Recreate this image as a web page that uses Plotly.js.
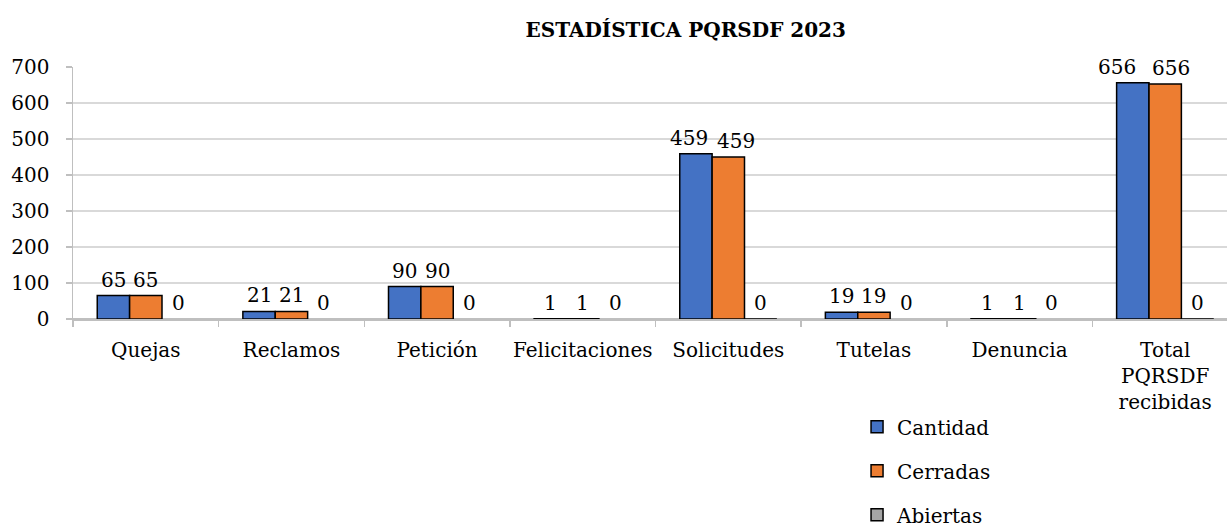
<!DOCTYPE html>
<html>
<head>
<meta charset="utf-8">
<script src="https://cdn.plot.ly/plotly-3.0.1.min.js"></script>
<style>
html, body { margin: 0; padding: 0; overflow: hidden; background: #fff; }
#chart { width: 1240px; height: 524px; }
</style>
</head>
<body>
<div id="chart"></div>
<script>
const categories = ["Quejas", "Reclamos", "Petición", "Felicitaciones", "Solicitudes", "Tutelas", "Denuncia", "Total<br>PQRSDF<br>recibidas"];
const cantidad = [65, 21, 90, 1, 459, 19, 1, 656];
const cerradas = [65, 21, 90, 1, 450, 19, 1, 653];
const abiertas = [0, 0, 0, 0, 0, 0, 0, 0];
const cantidadLabels = ["65", "21", "90", "1", "459", "19", "1", "656"];
const cerradasLabels = ["65", "21", "90", "1", "459", "19", "1", "656"];
const abiertasLabels = ["0", "0", "0", "0", "0", "0", "0", "0"];
const abiertasOutline = [0, 0, 0, 0, 1.5, 0, 0, 1.5];
const yTicks = [0, 100, 200, 300, 400, 500, 600, 700];

const FONT = "DejaVu Serif, Georgia, serif";
const W = 1240, H = 524;
const MARGIN = { l: 73, r: 2, t: 67, b: 205 };
const BARGAP = 0.333;

// label nudges (px) to keep crowded labels apart, like the original chart
const labelNudge = {
  "Cantidad|Solicitudes": -7, "Cerradas|Solicitudes": 8,
  "Cantidad|Total<br>PQRSDF<br>recibidas": -16, "Cerradas|Total<br>PQRSDF<br>recibidas": 6
};

function barTrace(name, values, color, lineWidths, order) {
  const idx = order || categories.map((c, i) => i);
  return {
    type: "bar",
    name: name,
    x: idx.map(i => categories[i]),
    y: idx.map(i => values[i]),
    hoverinfo: "skip",
    legendgroup: name,
    marker: {
      color: color,
      line: { color: "#000", width: Array.isArray(lineWidths) ? idx.map(i => lineWidths[i]) : lineWidths }
    }
  };
}

// outlined points first so the legend swatch keeps its border
const abiertasOrder = categories.map((c, i) => i).sort((a, b) => abiertasOutline[b] - abiertasOutline[a] || a - b);

const series = [
  { name: "Cantidad", values: cantidad, labels: cantidadLabels, color: "#4472C4", line: 1.5 },
  { name: "Cerradas", values: cerradas, labels: cerradasLabels, color: "#ED7D31", line: 1.5 },
  { name: "Abiertas", values: abiertas, labels: abiertasLabels, color: "#A5A5A5", line: abiertasOutline, order: abiertasOrder }
];

const data = series.map(s => barTrace(s.name, s.values, s.color, s.line, s.order));

const barPx = (W - MARGIN.l - MARGIN.r) / categories.length * (1 - BARGAP) / series.length;
const annotations = [];
series.forEach((s, k) => {
  categories.forEach((c, i) => {
    annotations.push({
      x: c, y: s.values[i], xref: "x", yref: "y",
      text: s.labels[i], showarrow: false,
      xanchor: "center", yanchor: "bottom",
      xshift: (k - (series.length - 1) / 2) * barPx + (labelNudge[s.name + "|" + c] || 0),
      yshift: 2,
      font: { family: FONT, size: 20, color: "#000" }
    });
  });
});

const layout = {
  width: W,
  height: H,
  margin: Object.assign({ autoexpand: false }, MARGIN),
  paper_bgcolor: "#fff",
  plot_bgcolor: "#fff",
  font: { family: FONT, size: 20, color: "#000" },
  title: {
    text: "<b>ESTADÍSTICA PQRSDF 2023</b>",
    font: { family: FONT, size: 20, color: "#000" },
    x: 0.553, xref: "container", xanchor: "center",
    y: 0.943, yref: "container", yanchor: "middle"
  },
  barmode: "group",
  bargap: BARGAP,
  bargroupgap: 0,
  showlegend: true,
  legend: {
    x: 0.673, xanchor: "left",
    y: -0.35, yanchor: "top",
    orientation: "v",
    traceorder: "grouped",
    tracegroupgap: 15,
    font: { family: FONT, size: 20, color: "#000" },
    bgcolor: "rgba(0,0,0,0)",
    itemclick: false
  },
  annotations: annotations,
  xaxis: {
    type: "category",
    categoryorder: "array",
    categoryarray: categories,
    showgrid: false,
    showline: true,
    linecolor: "#bfbfbf",
    linewidth: 1.5,
    ticks: "outside",
    tickson: "boundaries",
    ticklen: 6,
    tickcolor: "#bfbfbf",
    tickwidth: 1.5,
    tickangle: 0,
    automargin: false,
    ticklabelstandoff: 12,
    tickfont: { family: FONT, size: 20, color: "#000" },
    zeroline: false,
    fixedrange: true
  },
  yaxis: {
    range: [0, 700],
    tickvals: yTicks,
    ticktext: yTicks.map(String),
    showgrid: true,
    gridcolor: "#d9d9d9",
    gridwidth: 1.5,
    showline: true,
    linecolor: "#bfbfbf",
    linewidth: 1.5,
    ticks: "outside",
    ticklen: 6,
    tickcolor: "#bfbfbf",
    tickwidth: 1.5,
    automargin: false,
    ticklabelstandoff: 12,
    tickfont: { family: FONT, size: 20, color: "#000" },
    zeroline: true,
    zerolinecolor: "#bfbfbf",
    zerolinewidth: 1.5,
    fixedrange: true
  }
};

Plotly.newPlot("chart", data, layout, { displayModeBar: false, staticPlot: true });
</script>
</body>
</html>
